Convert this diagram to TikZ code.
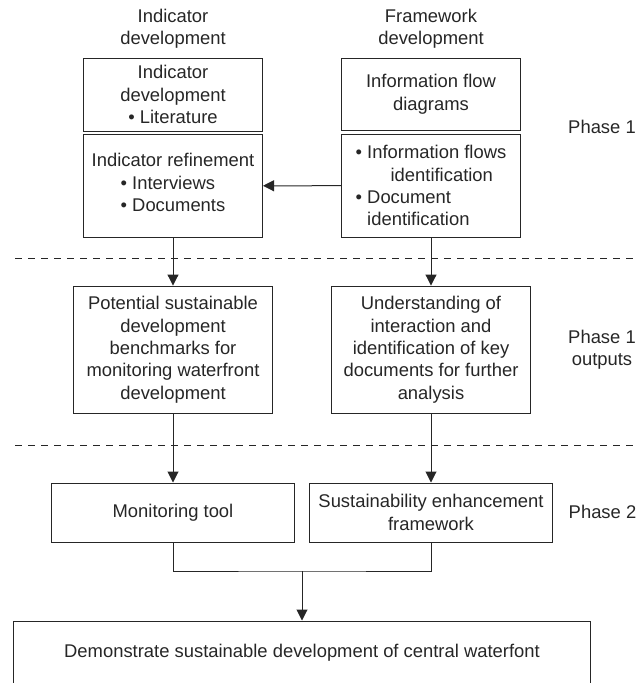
\documentclass[tikz,border=0pt]{standalone}
\usepackage{fontspec}
\setmainfont{Liberation Sans}
\usetikzlibrary{arrows.meta}

\begin{document}
\begin{tikzpicture}[x=1pt,y=-1pt]

\tikzset{txt/.style = {align=center,text=black!85,inner sep=0pt,font=\fontsize{18.4}{22.4}\selectfont}}
\tikzset{box/.style = {txt,shape=rectangle,draw=black!85,line width=1pt}}
\tikzset{edge/.style = {-{Triangle[length=11pt,width=11pt]},draw=black!85,line width=1pt}}
\tikzset{divider/.style = {draw=black!85,line width=1pt,dash pattern=on 7pt off 6pt}}

\useasboundingbox (0,0) rectangle (644,683);

%headers
\node[txt] (ihead) at (173,29) {Indicator\\development};
\node[txt] (fhead) at (431,29) {Framework\\development};

%phase 1
\node[box, minimum width=179pt, minimum height=72.7pt] (lit) at (173,94.7) {Indicator\\development\\\textbullet\ Literature};
\node[box, minimum width=179pt, minimum height=103pt] (refine) at (173,185.8) {Indicator refinement\\\begin{tabular}[t]{@{}l@{}}\textbullet\ Interviews\\\textbullet\ Documents\end{tabular}};
\node[box, minimum width=178.6pt, minimum height=72.2pt] (diag) at (431,94.4) {Information flow\\diagrams};
\node[box, align=left, minimum width=178.6pt, minimum height=103pt] (flows) at (431,185.7) {\textbullet\ Information flows\\\hspace*{1.9em}identification\\\textbullet\ Document\\\phantom{\textbullet\ }identification};
\node[txt] (ph1) at (602,127) {Phase 1};

%phase 1 outputs
\node[box, minimum width=199.3pt, minimum height=127.3pt] (bench) at (173,349.7) {Potential sustainable\\development\\benchmarks for\\monitoring waterfront\\development};
\node[box, minimum width=199.5pt, minimum height=127.3pt] (interact) at (431,349.7) {Understanding of\\interaction and\\identification of key\\documents for further\\analysis};
\node[txt] (ph1out) at (602,350) {Phase 1\\outputs};

%phase 2
\node[box, minimum width=243pt, minimum height=59pt] (tool) at (173,512.5) {Monitoring tool};
\node[box, minimum width=242.3pt, minimum height=59pt] (frame) at (431,512.5) {Sustainability enhancement\\framework};
\node[txt] (ph2) at (602.5,512) {Phase 2};

\node[box, minimum width=576.7pt, minimum height=64pt] (demo) at (302,653) {Demonstrate sustainable development of central waterfont};
\coordinate (join) at (302,571);

%dividers
\draw[divider] (15,258) -- (637,258);
\draw[divider] (15,445) -- (637,445);

%arrows
\draw[edge] (flows) -- (refine);
\draw[edge] (refine) -- (bench);
\draw[edge] (flows) -- (interact);
\draw[edge] (bench) -- (tool);
\draw[edge] (interact) -- (frame);
\draw[draw=black!85,line width=1pt] (tool.south) |- (join) -| (frame.south);
\draw[edge] (join) -- (demo);

\end{tikzpicture}
\end{document}
